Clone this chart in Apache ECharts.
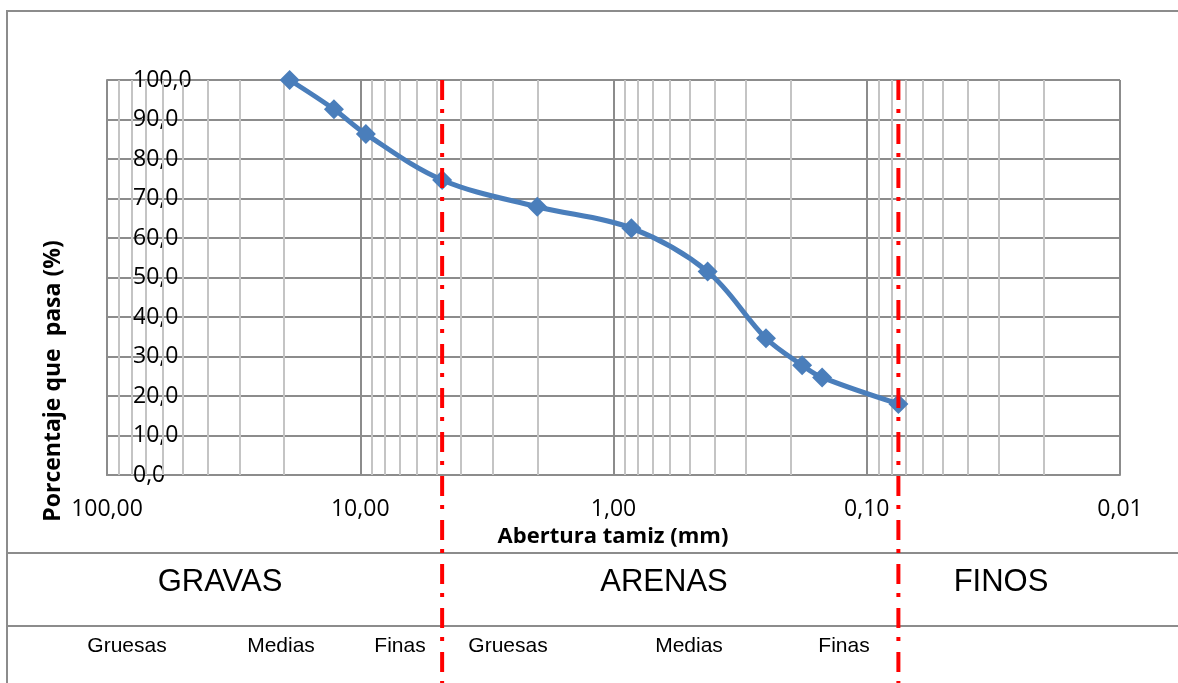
<!DOCTYPE html>
<html>
<head>
<meta charset="utf-8">
<script src="https://cdn.jsdelivr.net/npm/echarts@6/dist/echarts.min.js"></script>
<style>
html,body{margin:0;padding:0;background:#fff;}
#chart{width:1178px;height:683px;}
</style>
</head>
<body>
<div id="chart"></div>
<script>
// ---- data ----
const aperturaMm = [19.0, 12.7, 9.5, 4.75, 2.0, 0.85, 0.425, 0.25, 0.18, 0.15, 0.075];
const porcentajePasa = [100.0, 92.6, 86.3, 74.7, 67.9, 62.5, 51.5, 34.6, 27.8, 24.7, 18.0];
const limitesMm = [4.75, 0.075];           // grava/arena (N.º 4), arena/finos (N.º 200)
const xTicks = [100, 10, 1, 0.1, 0.01];
const yTicks = [0, 10, 20, 30, 40, 50, 60, 70, 80, 90, 100];
const gruposTexto = ['GRAVAS', 'ARENAS', 'FINOS'];
const subgruposTexto = ['Gruesas', 'Medias', 'Finas', 'Gruesas', 'Medias', 'Finas'];

// minor log gridline values (2..9 within each decade)
const minorVals = [];
[10, 1, 0.1, 0.01].forEach(d => { for (let k = 2; k <= 9; k++) minorVals.push(+(k * d).toPrecision(3)); });

const chart = echarts.init(document.getElementById('chart'));
const fmtX = v => Number(v).toFixed(2).replace('.', ',');
const fmtY = v => Number(v).toFixed(1).replace('.', ',');

const option = {
  animation: false,
  backgroundColor: '#fff',
  grid: { left: 107, right: 58, top: 80, bottom: 208, containLabel: false },
  xAxis: {
    type: 'log', logBase: 10, min: 0.01, max: 100, inverse: true,
    axisLine: { show: true, lineStyle: { color: '#8C8C8C', width: 2 } },
    axisTick: { show: false },
    axisLabel: { formatter: fmtX, color: '#000', fontFamily: 'Open Sans', fontSize: 23, margin: 23, showMinLabel: true, showMaxLabel: true },
    splitLine: { show: true, lineStyle: { color: '#8C8C8C', width: 2 } },
    minorTick: { show: false }, minorSplitLine: { show: false }
  },
  yAxis: {
    type: 'value', min: 0, max: 100, interval: 10,
    axisLine: { show: true, lineStyle: { color: '#8C8C8C', width: 2 } },
    axisTick: { show: false },
    axisLabel: { formatter: fmtY, color: '#000', fontFamily: 'Open Sans', fontSize: 23, inside: true, margin: 26 },
    splitLine: { show: true, lineStyle: { color: '#8C8C8C', width: 2 } }
  },
  series: [
    {
      type: 'line', data: [], z: 1, silent: true,
      markLine: {
        silent: true, symbol: ['none', 'none'], label: { show: false }, animation: false,
        lineStyle: { color: '#C4C4C4', width: 2, type: 'solid' },
        data: minorVals.map(v => ({ xAxis: v }))
      }
    },
    {
      type: 'line', z: 5,
      data: aperturaMm.map((x, i) => [x, porcentajePasa[i]]),
      smooth: 0.35,
      symbol: 'diamond', symbolSize: 20,
      lineStyle: { color: '#4A7EBB', width: 5 },
      itemStyle: { color: '#4A7EBB' }
    }
  ]
};
chart.setOption(option);

// derived pixel positions from the chart's scales
const yTop = chart.convertToPixel({ yAxisIndex: 0 }, 100);
const redLines = limitesMm.map(v => {
  const x = chart.convertToPixel({ xAxisIndex: 0 }, v);
  return {
    type: 'line', z: 100, silent: true,
    shape: { x1: x, y1: yTop, x2: x, y2: 700 },
    style: { stroke: '#FF0000', lineWidth: 4, lineDash: [20, 9, 4, 11] }
  };
});

const gTextCommon = { fill: '#000', fontFamily: 'Liberation Sans, Arial, sans-serif', align: 'center', verticalAlign: 'middle' };
const grupoX = [220, 664, 1001];
const subX = [127, 281, 400, 508, 689, 844];

const graphics = [
  { type: 'rect', z: 0, silent: true, shape: { x: 7, y: 11, width: 1300, height: 800 }, style: { fill: 'none', stroke: '#8C8C8C', lineWidth: 2 } },
  { type: 'line', z: 0, silent: true, shape: { x1: 7, y1: 553, x2: 1178, y2: 553 }, style: { stroke: '#8C8C8C', lineWidth: 2 } },
  { type: 'line', z: 0, silent: true, shape: { x1: 7, y1: 626, x2: 1178, y2: 626 }, style: { stroke: '#8C8C8C', lineWidth: 2 } },
  { type: 'text', z: 10, x: 613, y: 537, style: { text: 'Abertura tamiz (mm)', fill: '#000', fontFamily: 'Open Sans', fontWeight: 'bold', fontSize: 22, align: 'center', verticalAlign: 'middle' } },
  { type: 'text', z: 10, x: 53, y: 381, rotation: Math.PI / 2, style: { text: 'Porcentaje que  pasa (%)', fill: '#000', fontFamily: 'Open Sans', fontWeight: 'bold', fontSize: 23, align: 'center', verticalAlign: 'middle' } }
];
gruposTexto.forEach((t, i) => graphics.push({ type: 'text', z: 10, x: grupoX[i], y: 582, style: Object.assign({ text: t, fontSize: 31 }, gTextCommon) }));
subgruposTexto.forEach((t, i) => graphics.push({ type: 'text', z: 10, x: subX[i], y: 646, style: Object.assign({ text: t, fontSize: 21 }, gTextCommon) }));

chart.setOption({ graphic: graphics.concat(redLines) });
</script>
</body>
</html>
